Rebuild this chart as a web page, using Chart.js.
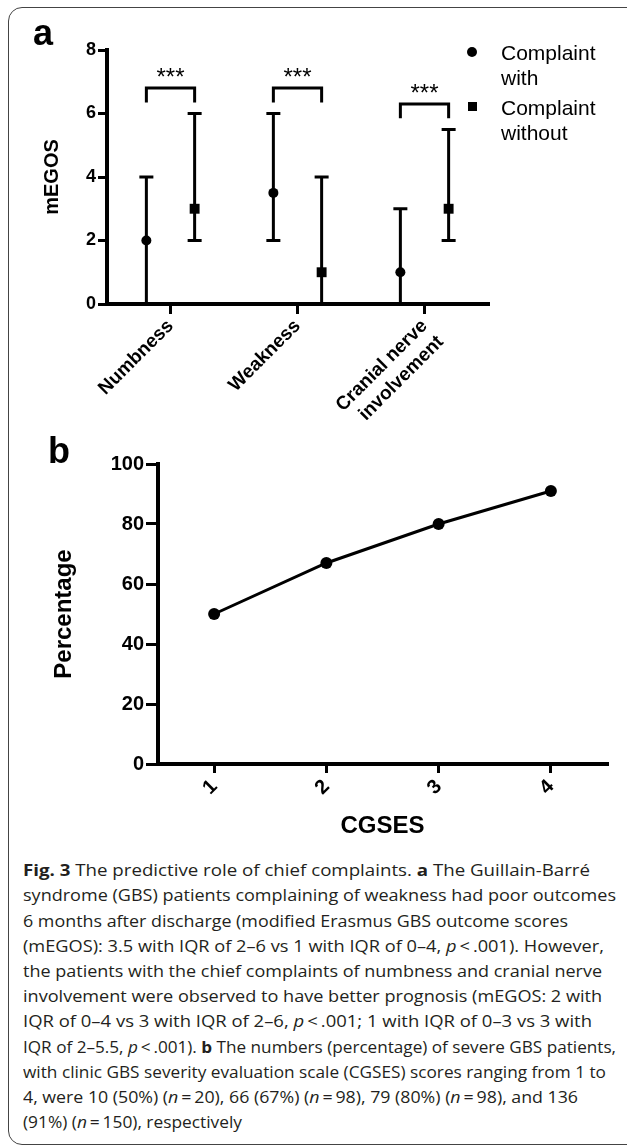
<!DOCTYPE html>
<html><head><meta charset="utf-8">
<script src="https://cdn.jsdelivr.net/npm/chart.js@4.4.1/dist/chart.umd.min.js"></script>
<style>
html,body{margin:0;padding:0;background:#fff;}
body{width:627px;height:1147px;position:relative;overflow:hidden;font-family:"Liberation Sans",Arial,sans-serif;}
#frame{position:absolute;left:8px;top:7px;width:640px;height:1138px;border:1.5px solid #444;border-radius:14px;box-sizing:border-box;}
.panel{position:absolute;font-weight:bold;font-size:36px;line-height:36px;color:#000;}
canvas{position:absolute;left:0;}
.leg{position:absolute;font-size:21px;line-height:25px;color:#000;}
.cap{position:absolute;left:23px;white-space:nowrap;font-family:"Open Sans",sans-serif;font-size:16px;line-height:25.2px;color:#231f20;transform-origin:0 50%;}
.cap b{font-weight:700;}
</style></head>
<body>
<div id="frame"></div>
<canvas id="ca" width="627" height="420" style="top:0"></canvas>
<canvas id="cb" width="627" height="430" style="top:420px"></canvas>
<div class="panel" style="left:33px;top:15px">a</div>
<div class="panel" style="left:48px;top:433px">b</div>
<div style="position:absolute;left:467px;top:47px;width:10px;height:10px;border-radius:50%;background:#000"></div>
<div class="leg" id="leg1" style="left:501px;top:39.5px"></div>
<div style="position:absolute;left:468px;top:102px;width:9px;height:9px;background:#000"></div>
<div class="leg" id="leg2" style="left:501px;top:94.5px"></div>
<div id="caption"></div>
<script>
// ---------- Panel a data ----------
const categoriesA = [['Numbness'], ['Weakness'], ['Cranial nerve', 'involvement']];
const seriesNames = [['Complaint', 'with'], ['Complaint', 'without']];
const withMedian = [2, 3.5, 1];
const withLow = [0, 2, 0];
const withHigh = [4, 6, 3];
const withoutMedian = [3, 1, 3];
const withoutLow = [2, 0, 2];
const withoutHigh = [6, 4, 5.5];
const sigLabels = ['***', '***', '***'];
const bracketLeg = [6.35, 6.35, 5.85];
const bracketTop = [6.8, 6.8, 6.3];
const starY = [6.9, 6.9, 6.4];
const ticksA = [0, 2, 4, 6, 8];
const yTitleA = 'mEGOS';

// ---------- Panel b data ----------
const categoriesB = ['1', '2', '3', '4'];
const percentB = [50, 67, 80, 91];
const ticksB = [0, 20, 40, 60, 80, 100];
const xTitleB = 'CGSES';
const yTitleB = 'Percentage';

// ---------- Caption ----------
const captionLines = [
  '<b>Fig. 3</b> The predictive role of chief complaints. <b>a</b> The Guillain-Barré',
  'syndrome (GBS) patients complaining of weakness had poor outcomes',
  '6 months after discharge (modified Erasmus GBS outcome scores',
  '(mEGOS): 3.5 with IQR of 2–6 vs 1 with IQR of 0–4, <i>p</i>\u2009&lt;\u2009.001). However,',
  'the patients with the chief complaints of numbness and cranial nerve',
  'involvement were observed to have better prognosis (mEGOS: 2 with',
  'IQR of 0–4 vs 3 with IQR of 2–6, <i>p</i>\u2009&lt;\u2009.001; 1 with IQR of 0–3 vs 3 with',
  'IQR of 2–5.5, <i>p</i>\u2009&lt;\u2009.001). <b>b</b> The numbers (percentage) of severe GBS patients,',
  'with clinic GBS severity evaluation scale (CGSES) scores ranging from 1 to',
  '4, were 10 (50%) (<i>n</i>\u2009=\u200920), 66 (67%) (<i>n</i>\u2009=\u200998), 79 (80%) (<i>n</i>\u2009=\u200998), and 136',
  '(91%) (<i>n</i>\u2009=\u2009150), respectively'
];
const captionLineEnds = [590, 616, 568, 604, 602, 602, 592, 616, 606, 578, 242];

document.getElementById('leg1').innerHTML = seriesNames[0].join('<br>');
document.getElementById('leg2').innerHTML = seriesNames[1].join('<br>');

const GROUP_OFFSET = 0.19;
Chart.defaults.font.family = '"Liberation Sans", Arial, sans-serif';
Chart.defaults.color = '#000';

const withPts = withMedian.map((v, i) => ({x: i - GROUP_OFFSET, y: v, low: withLow[i], high: withHigh[i]}));
const withoutPts = withoutMedian.map((v, i) => ({x: i + GROUP_OFFSET, y: v, low: withoutLow[i], high: withoutHigh[i]}));

const errorBars = {
  id: 'errorBars',
  beforeDatasetsDraw(chart) {
    const {ctx, scales: {x, y}} = chart;
    ctx.save();
    ctx.strokeStyle = '#000';
    ctx.lineWidth = 3;
    chart.data.datasets.forEach(ds => {
      ds.data.forEach(p => {
        const px = x.getPixelForValue(p.x);
        const lo = y.getPixelForValue(p.low), hi = y.getPixelForValue(p.high);
        ctx.beginPath();
        ctx.moveTo(px, lo); ctx.lineTo(px, hi);
        ctx.moveTo(px - 7, hi); ctx.lineTo(px + 7, hi);
        ctx.moveTo(px - 7, lo); ctx.lineTo(px + 7, lo);
        ctx.stroke();
      });
    });
    ctx.restore();
  }
};

const brackets = {
  id: 'brackets',
  afterDatasetsDraw(chart) {
    const {ctx, scales: {x, y}} = chart;
    ctx.save();
    ctx.strokeStyle = '#000';
    ctx.fillStyle = '#000';
    ctx.lineWidth = 3;
    ctx.lineJoin = 'miter';
    ctx.font = '24px "Liberation Sans", Arial, sans-serif';
    ctx.textAlign = 'center';
    ctx.textBaseline = 'alphabetic';
    categoriesA.forEach((c, i) => {
      const x1 = x.getPixelForValue(i - GROUP_OFFSET);
      const x2 = x.getPixelForValue(i + GROUP_OFFSET);
      const yl = y.getPixelForValue(bracketLeg[i]);
      const yt = y.getPixelForValue(bracketTop[i]);
      ctx.beginPath();
      ctx.moveTo(x1, yl); ctx.lineTo(x1, yt); ctx.lineTo(x2, yt); ctx.lineTo(x2, yl);
      ctx.stroke();
      ctx.fillText(sigLabels[i], (x1 + x2) / 2, y.getPixelForValue(starY[i]));
    });
    ctx.restore();
  }
};

new Chart(document.getElementById('ca'), {
  type: 'scatter',
  data: {
    datasets: [
      {label: seriesNames[0].join(' '), data: withPts, pointStyle: 'circle', pointRadius: 5,
       backgroundColor: '#000', borderColor: '#000', borderWidth: 0, showLine: false},
      {label: seriesNames[1].join(' '), data: withoutPts, pointStyle: 'rect', pointRadius: 7,
       backgroundColor: '#000', borderColor: '#000', borderWidth: 0, showLine: false}
    ]
  },
  options: {
    responsive: false, animation: false, devicePixelRatio: 1, events: [],
    layout: {padding: {top: 50, right: 139, left: 0, bottom: 0}},
    plugins: {legend: {display: false}, tooltip: {enabled: false}},
    scales: {
      x: {
        type: 'linear', min: -0.5, max: 2.5,
        afterBuildTicks: s => { s.ticks = categoriesA.map((c, i) => ({value: i})); },
        afterFit: s => { s.height = 116; },
        ticks: {callback: v => categoriesA[Math.round(v)], autoSkip: false, minRotation: 45, maxRotation: 45,
                font: {size: 19, weight: 'bold'}, padding: 1, color: '#000'},
        grid: {drawOnChartArea: false, drawTicks: true, tickLength: 10, lineWidth: 3, color: '#000'},
        border: {display: true, width: 4, color: '#000'}
      },
      y: {
        type: 'linear', min: 0, max: 8,
        afterBuildTicks: s => { s.ticks = ticksA.map(v => ({value: v})); },
        afterFit: s => { s.width = 107; },
        ticks: {font: {size: 18, weight: 'bold'}, padding: 2, color: '#000'},
        grid: {drawOnChartArea: false, drawTicks: true, tickLength: 9, lineWidth: 3, color: '#000'},
        border: {display: true, width: 4, color: '#000'},
        title: {display: true, text: yTitleA, font: {size: 20, weight: 'bold'}, padding: {top: 40, bottom: 0}, color: '#000'}
      }
    }
  },
  plugins: [errorBars, brackets]
});

new Chart(document.getElementById('cb'), {
  type: 'line',
  data: {
    labels: categoriesB,
    datasets: [{label: yTitleB, data: percentB, borderColor: '#000', backgroundColor: '#000', borderWidth: 3,
                pointRadius: 6, pointBackgroundColor: '#000', pointBorderWidth: 0, tension: 0, fill: false, clip: false}]
  },
  options: {
    responsive: false, animation: false, devicePixelRatio: 1, events: [],
    layout: {padding: {top: 44, right: 20, left: 0, bottom: 0}},
    plugins: {legend: {display: false}, tooltip: {enabled: false}},
    scales: {
      x: {
        type: 'category', offset: true,
        afterFit: s => { s.height = 86; },
        ticks: {autoSkip: false, minRotation: 45, maxRotation: 45, font: {size: 20, weight: 'bold'}, padding: 2, color: '#000'},
        grid: {offset: false, drawOnChartArea: false, drawTicks: true, tickLength: 9, lineWidth: 3, color: '#000'},
        border: {display: true, width: 4, color: '#000'},
        title: {display: true, text: xTitleB, font: {size: 24, weight: 'bold'}, padding: {top: 0, bottom: 9}, color: '#000'}
      },
      y: {
        type: 'linear', min: 0, max: 100,
        afterBuildTicks: s => { s.ticks = ticksB.map(v => ({value: v})); },
        afterFit: s => { s.width = 158; },
        ticks: {font: {size: 20, weight: 'bold'}, padding: 2, color: '#000'},
        grid: {drawOnChartArea: false, drawTicks: true, tickLength: 12, lineWidth: 3, color: '#000'},
        border: {display: true, width: 4, color: '#000'},
        title: {display: true, text: yTitleB, font: {size: 24, weight: 'bold'}, padding: {top: 50, bottom: 0}, color: '#000'}
      }
    }
  }
});

// caption: each line fitted to the width it has in the printed figure
const capBox = document.getElementById('caption');
const firstBaseline = 877, lineStep = 25.2, capLeft = 23;
captionLines.forEach((html, i) => {
  const d = document.createElement('div');
  d.className = 'cap';
  d.innerHTML = html;
  d.style.top = (firstBaseline - 18.8 + i * lineStep) + 'px';
  capBox.appendChild(d);
  const w = d.getBoundingClientRect().width;
  d.style.transform = 'scaleX(' + ((captionLineEnds[i] - capLeft) / w).toFixed(4) + ')';
});
</script>
</body></html>
